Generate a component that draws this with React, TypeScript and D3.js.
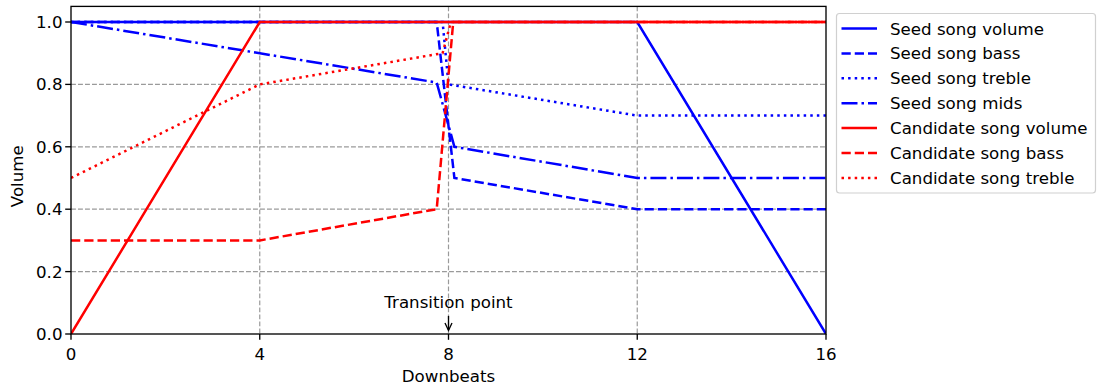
import React from "react";
import * as d3 from "d3";

const xTicks = [0, 4, 8, 12, 16];
const yTicks = [0.0, 0.2, 0.4, 0.6, 0.8, 1.0];

const seedVolumeX = [0, 12, 16];
const seedVolumeY = [1.0, 1.0, 0.0];
const seedBassX = [0, 7.75, 8.125, 12, 16];
const seedBassY = [1.0, 1.0, 0.5, 0.4, 0.4];
const seedTrebleX = [0, 7.875, 8.0, 12, 16];
const seedTrebleY = [1.0, 1.0, 0.8, 0.7, 0.7];
const seedMidsX = [0, 7.75, 8.125, 12, 16];
const seedMidsY = [1.0, 0.806, 0.6, 0.5, 0.5];
const candVolumeX = [0, 4, 16];
const candVolumeY = [0.0, 1.0, 1.0];
const candBassX = [0, 4, 7.75, 8.1, 16];
const candBassY = [0.3, 0.3, 0.4, 1.0, 1.0];
const candTrebleX = [0, 4, 7.875, 8.05, 16];
const candTrebleY = [0.5, 0.8, 0.9, 1.0, 1.0];

const seriesNames = [
  "Seed song volume",
  "Seed song bass",
  "Seed song treble",
  "Seed song mids",
  "Candidate song volume",
  "Candidate song bass",
  "Candidate song treble",
];

const W = 1097;
const H = 387;
const L = 71, R = 826, T = 6.4, B = 334;
const FONT = "DejaVu Sans, sans-serif";
const FS = 16.67;
const LW = 2.5;

const DASH = "9.25,4";
const DOT = "2.5,4.1";
const DASHDOT = "16,4,2.5,4";

export default function App() {
  const x = d3.scaleLinear().domain([0, 16]).range([L, R]);
  const y = d3.scaleLinear().domain([0, 1.05]).range([B, T]);
  const line = d3
    .line<[number, number]>()
    .x((d) => x(d[0]))
    .y((d) => y(d[1]));
  const zip = (xs: number[], ys: number[]) =>
    xs.map((v, i) => [v, ys[i]] as [number, number]);

  const series = [
    { name: seriesNames[0], data: zip(seedVolumeX, seedVolumeY), color: "#0000ff", dash: "" },
    { name: seriesNames[1], data: zip(seedBassX, seedBassY), color: "#0000ff", dash: DASH },
    { name: seriesNames[2], data: zip(seedTrebleX, seedTrebleY), color: "#0000ff", dash: DOT },
    { name: seriesNames[3], data: zip(seedMidsX, seedMidsY), color: "#0000ff", dash: DASHDOT },
    { name: seriesNames[4], data: zip(candVolumeX, candVolumeY), color: "#ff0000", dash: "" },
    { name: seriesNames[5], data: zip(candBassX, candBassY), color: "#ff0000", dash: DASH },
    { name: seriesNames[6], data: zip(candTrebleX, candTrebleY), color: "#ff0000", dash: DOT },
  ];

  const legX = 836.5, legY = 13.5, legW = 259, legH = 179.5;
  const rowH = 24.9;

  return (
    <div style={{ position: "fixed", left: 0, top: 0 }}>
      <svg width={W} height={H} style={{ display: "block", background: "#fff" }} fontFamily={FONT}>
        <defs>
          <clipPath id="plotclip">
            <rect x={L} y={T} width={R - L} height={B - T} />
          </clipPath>
        </defs>
        {/* grid */}
        {xTicks.slice(1, -1).map((t) => (
          <line key={"gx" + t} x1={x(t)} x2={x(t)} y1={T} y2={B} stroke="#9a9a9a" strokeWidth={1.2} strokeDasharray="4.9,2.1" />
        ))}
        {yTicks.slice(1).map((t) => (
          <line key={"gy" + t} x1={L} x2={R} y1={y(t)} y2={y(t)} stroke="#9a9a9a" strokeWidth={1.2} strokeDasharray="4.9,2.1" />
        ))}
        {/* lines */}
        <g clipPath="url(#plotclip)">
          {series.map((s) => (
            <path key={s.name} d={line(s.data) || ""} fill="none" stroke={s.color} strokeWidth={LW} strokeDasharray={s.dash || undefined} />
          ))}
        </g>
        {/* spines */}
        <rect x={L} y={T} width={R - L} height={B - T} fill="none" stroke="#000" strokeWidth={1.33} />
        {/* x ticks */}
        {xTicks.map((t) => (
          <g key={"xt" + t}>
            <line x1={x(t)} x2={x(t)} y1={B} y2={B + 5.8} stroke="#000" strokeWidth={1.33} />
            <text x={x(t)} y={360} textAnchor="middle" fontSize={FS} fill="#000">{t}</text>
          </g>
        ))}
        {/* y ticks */}
        {yTicks.map((t) => (
          <g key={"yt" + t}>
            <line x1={L - 5.8} x2={L} y1={y(t)} y2={y(t)} stroke="#000" strokeWidth={1.33} />
            <text x={L - 8.5} y={y(t)} dy="0.36em" textAnchor="end" fontSize={FS} fill="#000">{t.toFixed(1)}</text>
          </g>
        ))}
        {/* axis labels */}
        <text x={(L + R) / 2} y={382} textAnchor="middle" fontSize={FS} fill="#000">Downbeats</text>
        <text transform={`translate(23,${(T + B) / 2 + 6}) rotate(-90)`} textAnchor="middle" fontSize={FS} fill="#000">Volume</text>
        {/* annotation */}
        <text x={x(8)} y={308} textAnchor="middle" fontSize={FS} fill="#000">Transition point</text>
        <line x1={x(8)} x2={x(8)} y1={316} y2={330} stroke="#000" strokeWidth={1.33} />
        <path d={`M${x(8) - 3.5},${323} L${x(8)},${330.5} L${x(8) + 3.5},${323}`} fill="none" stroke="#000" strokeWidth={1.33} />
        {/* legend */}
        <rect x={legX} y={legY} width={legW} height={legH} rx={3} ry={3} fill="#fff" fillOpacity={0.8} stroke="#d0d0d0" strokeWidth={1.2} />
        {series.map((s, i) => {
          const cy = 28.5 + i * rowH;
          return (
            <g key={"lg" + i}>
              <line x1={841.5} x2={877} y1={cy} y2={cy} stroke={s.color} strokeWidth={LW} strokeDasharray={s.dash || undefined} />
              <text x={890} y={cy} dy="0.36em" fontSize={FS} fill="#000">{s.name}</text>
            </g>
          );
        })}
      </svg>
    </div>
  );
}
